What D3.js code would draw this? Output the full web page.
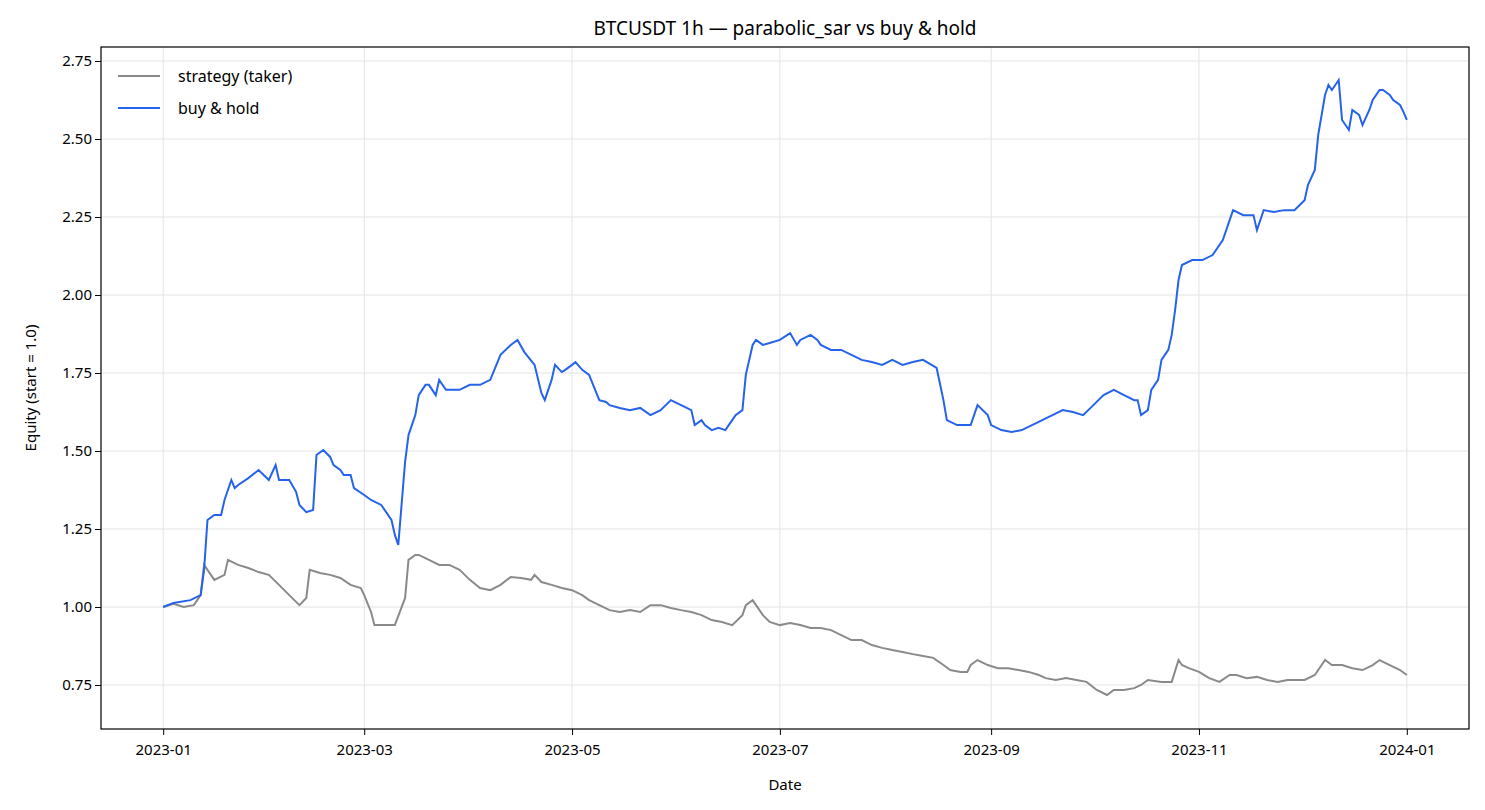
<!DOCTYPE html>
<html><head><meta charset="utf-8">
<script src="https://cdn.jsdelivr.net/npm/d3@7"></script>
<style>body{margin:0;background:#fff}svg{font-family:"Noto Sans","DejaVu Sans",sans-serif}</style>
</head><body><svg id="c" width="1485" height="810"></svg>
<script>
const startDate = "2023-01-01";
const bhDays = [0,3,8,11,12,13,15,17,18,20,21,22,25,28,31,33,34,37,39,40,42,44,45,47,49,50,52,53,55,56,59,61,64,67,68,69,71,72,74,75,77,78,80,81,83,84,87,90,93,96,99,102,104,106,109,111,112,114,115,117,118,120,121,123,125,128,130,131,134,137,140,143,146,149,152,155,156,158,159,161,163,165,167,168,170,171,173,174,176,178,181,184,186,187,190,192,193,196,199,202,205,208,211,214,217,220,223,227,229,230,233,236,237,239,242,243,246,249,252,255,258,261,264,267,270,273,276,279,282,285,286,287,289,290,292,293,295,296,297,298,299,302,305,308,311,314,317,320,321,323,326,329,332,335,336,338,339,341,342,343,345,346,348,349,351,352,354,355,357,358,360,361,363,364,365];
const bhValues = [1.000,1.013,1.022,1.038,1.119,1.279,1.295,1.295,1.343,1.407,1.381,1.391,1.413,1.439,1.407,1.455,1.407,1.407,1.369,1.327,1.304,1.311,1.487,1.503,1.481,1.455,1.439,1.423,1.423,1.381,1.359,1.343,1.327,1.279,1.231,1.199,1.465,1.551,1.615,1.679,1.712,1.712,1.679,1.728,1.696,1.696,1.696,1.712,1.712,1.728,1.808,1.840,1.856,1.817,1.776,1.686,1.663,1.728,1.776,1.753,1.760,1.776,1.785,1.760,1.744,1.663,1.657,1.647,1.638,1.631,1.638,1.615,1.631,1.663,1.647,1.631,1.583,1.599,1.583,1.567,1.574,1.567,1.599,1.615,1.631,1.744,1.840,1.856,1.840,1.846,1.856,1.878,1.840,1.856,1.872,1.856,1.840,1.824,1.824,1.808,1.792,1.785,1.776,1.792,1.776,1.785,1.792,1.766,1.663,1.599,1.583,1.583,1.583,1.647,1.615,1.583,1.567,1.561,1.567,1.583,1.599,1.615,1.631,1.625,1.615,1.647,1.679,1.696,1.679,1.663,1.663,1.615,1.631,1.696,1.728,1.792,1.824,1.872,1.952,2.048,2.096,2.112,2.112,2.128,2.176,2.272,2.256,2.256,2.208,2.272,2.266,2.272,2.272,2.304,2.353,2.401,2.513,2.641,2.673,2.657,2.689,2.561,2.529,2.593,2.577,2.545,2.593,2.625,2.657,2.657,2.641,2.625,2.609,2.587,2.561];
const stDays = [0,3,6,9,11,12,14,15,18,19,22,25,28,31,34,37,40,42,43,46,49,52,55,58,59,61,62,68,71,72,74,75,78,81,84,87,90,93,96,99,102,105,108,109,111,114,117,120,123,125,128,131,134,137,140,143,146,149,152,155,158,161,164,167,170,171,173,174,176,178,181,184,187,190,193,196,199,202,205,208,211,214,217,220,223,226,229,231,234,236,237,239,242,245,248,251,254,257,259,262,265,268,271,274,277,279,282,285,287,289,293,296,298,299,301,304,307,310,313,315,318,321,324,327,330,335,338,341,343,346,349,352,355,357,360,363,365];
const stValues = [1.000,1.010,1.000,1.006,1.038,1.135,1.103,1.087,1.103,1.151,1.135,1.125,1.112,1.103,1.071,1.038,1.006,1.029,1.119,1.109,1.103,1.093,1.071,1.061,1.038,0.984,0.942,0.942,1.029,1.151,1.167,1.167,1.151,1.135,1.135,1.119,1.087,1.061,1.054,1.071,1.096,1.093,1.087,1.103,1.080,1.071,1.061,1.054,1.038,1.022,1.006,0.990,0.984,0.990,0.984,1.006,1.006,0.997,0.990,0.984,0.974,0.958,0.952,0.942,0.974,1.006,1.022,1.006,0.974,0.952,0.942,0.949,0.942,0.933,0.933,0.926,0.910,0.894,0.894,0.878,0.869,0.862,0.856,0.849,0.843,0.837,0.814,0.798,0.792,0.792,0.814,0.830,0.814,0.804,0.804,0.798,0.792,0.782,0.772,0.766,0.772,0.766,0.760,0.734,0.718,0.734,0.734,0.740,0.750,0.766,0.760,0.760,0.830,0.814,0.804,0.792,0.772,0.760,0.782,0.782,0.772,0.776,0.766,0.760,0.766,0.766,0.782,0.830,0.814,0.814,0.804,0.798,0.814,0.830,0.814,0.798,0.782];
const yTicks = [0.75,1.00,1.25,1.50,1.75,2.00,2.25,2.50,2.75];
const xTicks = ["2023-01-01","2023-03-01","2023-05-01","2023-07-01","2023-09-01","2023-11-01","2024-01-01"];

const svg = d3.select("#c");
const L=101,R=1469,T=47,B=729;
const base = new Date(startDate+"T00:00:00Z");
const toDate = d => new Date(base.getTime()+d*86400000);
const d0 = toDate(0), d1 = toDate(365), span = 365*0.05*86400000;
const x = d3.scaleUtc().domain([new Date(d0-span), new Date(+d1+span)]).range([L,R]);
const y = d3.scaleLinear().domain([1-(B-607)/312*1, 1+(607-T)/312]).range([B,T]);
const fmt = d3.utcFormat("%Y-%m");
// grid
svg.append("g").selectAll("line").data(yTicks).join("line")
 .attr("x1",L).attr("x2",R).attr("y1",d=>y(d)).attr("y2",d=>y(d)).attr("stroke","#e3e3e3");
svg.append("g").selectAll("line").data(xTicks).join("line")
 .attr("x1",d=>x(new Date(d))).attr("x2",d=>x(new Date(d))).attr("y1",T).attr("y2",B).attr("stroke","#e3e3e3");
const line = d3.line().x(d=>x(toDate(d[0]))).y(d=>y(d[1]));
svg.append("path").datum(stDays.map((d,i)=>[d,stValues[i]])).attr("d",line).attr("fill","none").attr("stroke","#8a8a8a").attr("stroke-width",2);
svg.append("path").datum(bhDays.map((d,i)=>[d,bhValues[i]])).attr("d",line).attr("fill","none").attr("stroke","#2563eb").attr("stroke-width",2);
// axes
const xa = svg.append("g").attr("transform",`translate(0,${B})`).call(d3.axisBottom(x).tickValues(xTicks.map(s=>new Date(s))).tickFormat(fmt).tickSize(6));
const ya = svg.append("g").attr("transform",`translate(${L},0)`).call(d3.axisLeft(y).tickValues(yTicks).tickFormat(d3.format(".2f")).tickSize(6));
[xa,ya].forEach(a=>{a.select(".domain").remove();a.selectAll("text").attr("font-size",15).attr("fill","#000").attr("font-family","Noto Sans");a.selectAll("line").attr("stroke","#000");});
xa.selectAll("text").attr("dy","1.1em");
svg.append("rect").attr("x",L).attr("y",T).attr("width",R-L).attr("height",B-T).attr("fill","none").attr("stroke","#000").attr("stroke-width",1.2);
svg.append("text").attr("x",(L+R)/2).attr("y",35).attr("text-anchor","middle").attr("font-size",19).text("BTCUSDT 1h — parabolic_sar vs buy & hold");
svg.append("text").attr("x",(L+R)/2).attr("y",790).attr("text-anchor","middle").attr("font-size",15).text("Date");
svg.append("text").attr("transform",`translate(36,${(T+B)/2}) rotate(-90)`).attr("text-anchor","middle").attr("font-size",15).text("Equity (start = 1.0)");
// legend
const lg=[["strategy (taker)","#8a8a8a"],["buy & hold","#2563eb"]];
lg.forEach((l,i)=>{const yy=76+i*32;
 svg.append("line").attr("x1",118).attr("x2",160).attr("y1",yy).attr("y2",yy).attr("stroke",l[1]).attr("stroke-width",2);
 svg.append("text").attr("x",178).attr("y",yy+6).attr("font-size",16).text(l[0]);});
</script></body></html>
